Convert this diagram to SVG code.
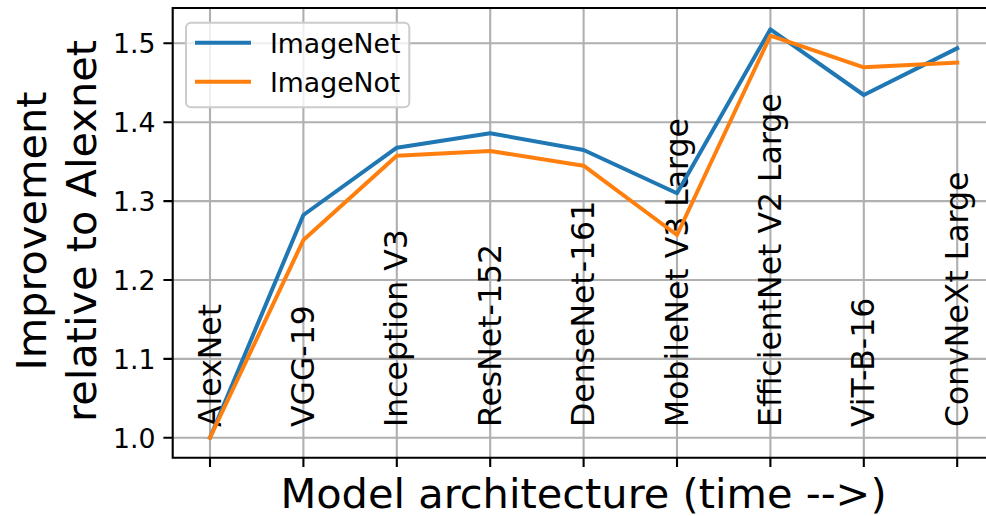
<svg xmlns="http://www.w3.org/2000/svg" width="986" height="516" viewBox="0 0 986 516">
<style>
text{font-family:"DejaVu Sans","Liberation Sans",sans-serif;fill:#000}
.grid{stroke:#b0b0b0;stroke-width:2.1;fill:none}
.spine{stroke:#000;stroke-width:2.1;fill:none;stroke-linecap:square}
.tick{stroke:#000;stroke-width:2.1}
.ytl{font-size:26.7px;text-anchor:end}
.ml{font-size:31.5px}
.s{fill:none;stroke-width:4;stroke-linejoin:round;stroke-linecap:square}
.net{stroke:#1f77b4}
.not{stroke:#ff7f0e}
</style>
<rect width="986" height="516" fill="#fff"/>
<g id="grid">
<path class="grid" d="M172.7 43.3H986M172.7 122.2H986M172.7 201.1H986M172.7 280H986M172.7 358.9H986M172.7 437.8H986"/>
<path class="grid" d="M210 8V457.7M303.4 8V457.7M396.8 8V457.7M490.2 8V457.7M583.6 8V457.7M677 8V457.7M770.4 8V457.7M863.8 8V457.7M957.2 8V457.7"/>
</g>
<g id="model-labels" class="ml">
<text transform="translate(220.5,427) rotate(-90)">AlexNet</text>
<text transform="translate(313.9,427) rotate(-90)">VGG-19</text>
<text transform="translate(407.3,427) rotate(-90)">Inception V3</text>
<text transform="translate(500.7,427) rotate(-90)">ResNet-152</text>
<text transform="translate(594.1,427) rotate(-90)">DenseNet-161</text>
<text transform="translate(687.5,427) rotate(-90)">MobileNet V3 Large</text>
<text transform="translate(780.9,427) rotate(-90)">EfficientNet V2 Large</text>
<text transform="translate(874.3,427) rotate(-90)">ViT-B-16</text>
<text transform="translate(967.7,427) rotate(-90)">ConvNeXt Large</text>
</g>
<g id="connectors">
<polyline id="imagenet" class="s net" points="210,437.7 303.4,215 396.8,147.7 490.2,133.3 583.6,150 677,193.3 770.4,29.3 863.8,95 957.2,48.3"/>
<polyline id="imagenot" class="s not" points="210,437.7 303.4,240 396.8,155.7 490.2,151 583.6,165.7 677,235 770.4,35.7 863.8,67.3 957.2,62.7"/>
</g>
<g id="axes">
<path class="spine" d="M986 8H172.7V457.7H986"/>
<path class="tick" d="M163.4 43.3H172.7M163.4 122.2H172.7M163.4 201.1H172.7M163.4 280H172.7M163.4 358.9H172.7M163.4 437.8H172.7"/>
<path class="tick" d="M210 457.7V467M303.4 457.7V467M396.8 457.7V467M490.2 457.7V467M583.6 457.7V467M677 457.7V467M770.4 457.7V467M863.8 457.7V467M957.2 457.7V467"/>
<g id="yticklabels">
<text class="ytl" x="155.5" y="53">1.5</text>
<text class="ytl" x="155.5" y="131.9">1.4</text>
<text class="ytl" x="155.5" y="210.8">1.3</text>
<text class="ytl" x="155.5" y="289.7">1.2</text>
<text class="ytl" x="155.5" y="368.6">1.1</text>
<text class="ytl" x="155.5" y="447.5">1.0</text>
</g>
</g>
<g id="ylabel" style="font-size:41.5px;text-anchor:middle">
<text transform="translate(45.5,231) rotate(-90)">Improvement</text>
<text transform="translate(95.5,231) rotate(-90)">relative to Alexnet</text>
</g>
<g id="xlabel">
<text x="583.5" y="507.5" style="font-size:41.5px;text-anchor:middle">Model architecture (time --&gt;)</text>
</g>
<g id="legend">
<rect x="186" y="22.7" width="223.3" height="84.6" rx="5" fill="#fff" fill-opacity="0.8" stroke="#cccccc" stroke-width="2"/>
<line class="s net" x1="197" y1="42.7" x2="249" y2="42.7"/>
<line class="s not" x1="197" y1="81.7" x2="249" y2="81.7"/>
<text x="270" y="53.3" style="font-size:26.7px">ImageNet</text>
<text x="270" y="92.3" style="font-size:26.7px">ImageNot</text>
</g>
</svg>
